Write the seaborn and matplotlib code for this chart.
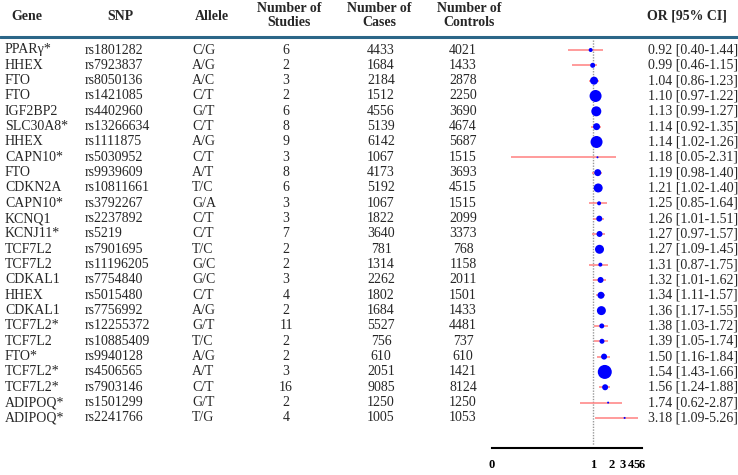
import numpy as np
import pandas as pd
import matplotlib
matplotlib.use("Agg")
import matplotlib.pyplot as plt
import matplotlib.transforms as mtransforms
from matplotlib.lines import Line2D
import seaborn as sns

genes = ["PPARγ*", "HHEX", "FTO", "FTO", "IGF2BP2", "SLC30A8*", "HHEX", "CAPN10*",
         "FTO", "CDKN2A", "CAPN10*", "KCNQ1", "KCNJ11*", "TCF7L2", "TCF7L2", "CDKAL1",
         "HHEX", "CDKAL1", "TCF7L2*", "TCF7L2", "FTO*", "TCF7L2*", "TCF7L2*", "ADIPOQ*", "ADIPOQ*"]
snps = ["rs1801282", "rs7923837", "rs8050136", "rs1421085", "rs4402960", "rs13266634",
        "rs1111875", "rs5030952", "rs9939609", "rs10811661", "rs3792267", "rs2237892",
        "rs5219", "rs7901695", "rs11196205", "rs7754840", "rs5015480", "rs7756992",
        "rs12255372", "rs10885409", "rs9940128", "rs4506565", "rs7903146", "rs1501299", "rs2241766"]
alleles = ["C/G", "A/G", "A/C", "C/T", "G/T", "C/T", "A/G", "C/T", "A/T", "T/C", "G/A", "C/T",
           "C/T", "T/C", "G/C", "G/C", "C/T", "A/G", "G/T", "T/C", "A/G", "A/T", "C/T", "G/T", "T/G"]
n_studies = [6, 2, 3, 2, 6, 8, 9, 3, 8, 6, 3, 3, 7, 2, 2, 3, 4, 2, 11, 2, 2, 3, 16, 2, 4]
n_cases = [4433, 1684, 2184, 1512, 4556, 5139, 6142, 1067, 4173, 5192, 1067, 1822, 3640, 781,
           1314, 2262, 1802, 1684, 5527, 756, 610, 2051, 9085, 1250, 1005]
n_controls = [4021, 1433, 2878, 2250, 3690, 4674, 5687, 1515, 3693, 4515, 1515, 2099, 3373, 768,
              1158, 2011, 1501, 1433, 4481, 737, 610, 1421, 8124, 1250, 1053]
or_est = [0.92, 0.99, 1.04, 1.10, 1.13, 1.14, 1.14, 1.18, 1.19, 1.21, 1.25, 1.26, 1.27, 1.27,
          1.31, 1.32, 1.34, 1.36, 1.38, 1.39, 1.50, 1.54, 1.56, 1.74, 3.18]
ci_low = [0.40, 0.46, 0.86, 0.97, 0.99, 0.92, 1.02, 0.05, 0.98, 1.02, 0.85, 1.01, 0.97, 1.09,
          0.87, 1.01, 1.11, 1.17, 1.03, 1.05, 1.16, 1.43, 1.24, 0.62, 1.09]
ci_high = [1.44, 1.15, 1.23, 1.22, 1.27, 1.35, 1.26, 2.31, 1.40, 1.40, 1.64, 1.51, 1.57, 1.45,
           1.75, 1.62, 1.57, 1.55, 1.72, 1.74, 1.84, 1.66, 1.88, 2.87, 5.26]
# relative study weight shown as marker size (box diameter)
weight = [4, 5, 8, 12, 10, 7, 12, 2, 7, 9, 4, 6, 6, 9, 4, 6, 7, 9, 5, 5, 6, 14, 6, 2, 2]

tick_vals = [0.025, 1, 2, 3, 4, 5, 6]
tick_labels = ["0", "1", "2", "3", "4", "5", "6"]

df = pd.DataFrame({"gene": genes, "snp": snps, "allele": alleles, "studies": n_studies,
                   "cases": n_cases, "controls": n_controls, "OR": or_est,
                   "lo": ci_low, "hi": ci_high, "w": np.square(weight)})
df["row"] = np.arange(len(df))

sns.set_style("white")
plt.rcParams["font.family"] = ["Liberation Serif", "DejaVu Serif"]

W, H = 738, 475
fig = plt.figure(figsize=(W / 100, H / 100), dpi=100)

def fx(px):
    return px / W

def fy(py):
    return 1 - py / H

row0, step = 50.0, 15.33
top_px, bot_px = 40.0, 448.0
ax = fig.add_axes([fx(492), fy(bot_px), fx(642) - fx(492), fy(top_px) - fy(bot_px)])
ax.set_xscale("log")
ax.set_xlim(tick_vals[0], tick_vals[-1])
ax.set_ylim((bot_px - row0) / step, (top_px - row0) / step)

# reference line
ax.vlines(1, (top_px - row0) / step, (445 - row0) / step, colors="#999999",
          linestyles=(0, (1, 1)), linewidth=1.0, clip_on=False)
# confidence intervals
ax.hlines(df["row"], df["lo"], df["hi"], colors="#ff8080", linewidth=1.1, clip_on=False)
# point estimates
k = 0.72 ** 2
sns.scatterplot(data=df, x="OR", y="row", size="w", sizes=(min(df["w"]) * k, max(df["w"]) * k),
                size_norm=(min(df["w"]), max(df["w"])), color="#0000ff", edgecolor="none",
                legend=False, ax=ax, clip_on=False, zorder=3)

ax.set_xlabel("")
ax.set_ylabel("")
ax.set_yticks([])
ax.minorticks_off()
ax.set_xticks(tick_vals)
ax.set_xticklabels(tick_labels, fontweight="bold", fontsize=9)
ax.tick_params(axis="x", direction="out", length=5, width=1.4, pad=3, colors="black")
for s in ["top", "left", "right"]:
    ax.spines[s].set_visible(False)
ax.spines["bottom"].set_linewidth(1.5)
ax.spines["bottom"].set_color("black")
ax.patch.set_alpha(0)

# table text
tr = mtransforms.blended_transform_factory(fig.transFigure, ax.transData)
fs = 10
for i, r in df.iterrows():
    y = r["row"]
    fig.text(fx(5), y, r["gene"], transform=tr, ha="left", va="center", fontsize=fs)
    fig.text(fx(85), y, r["snp"], transform=tr, ha="left", va="center", fontsize=fs)
    fig.text(fx(192), y, r["allele"], transform=tr, ha="left", va="center", fontsize=fs)
    fig.text(fx(286), y, str(r["studies"]), transform=tr, ha="center", va="center", fontsize=fs)
    fig.text(fx(381), y, str(r["cases"]), transform=tr, ha="center", va="center", fontsize=fs)
    fig.text(fx(463), y, str(r["controls"]), transform=tr, ha="center", va="center", fontsize=fs)
    fig.text(fx(648), y, f"{r['OR']:.2f} [{r['lo']:.2f}-{r['hi']:.2f}]", transform=tr,
             ha="left", va="center", fontsize=fs)

# headers
hk = dict(ha="center", va="center", fontsize=fs, fontweight="bold")
fig.text(fx(27), fy(16), "Gene", **hk)
fig.text(fx(120), fy(16), "SNP", **hk)
fig.text(fx(212), fy(16), "Allele", **hk)
fig.text(fx(289), fy(8), "Number of", **hk)
fig.text(fx(289), fy(23), "Studies", **hk)
fig.text(fx(379), fy(8), "Number of", **hk)
fig.text(fx(379), fy(23), "Cases", **hk)
fig.text(fx(469), fy(8), "Number of", **hk)
fig.text(fx(469), fy(23), "Controls", **hk)
fig.text(fx(687), fy(16), "OR [95% CI]", **hk)

fig.add_artist(Line2D([0, 1], [fy(36.5), fy(36.5)], transform=fig.transFigure,
                      color="#2b6688", linewidth=2.2))

fig.savefig("out.png", dpi=100)
